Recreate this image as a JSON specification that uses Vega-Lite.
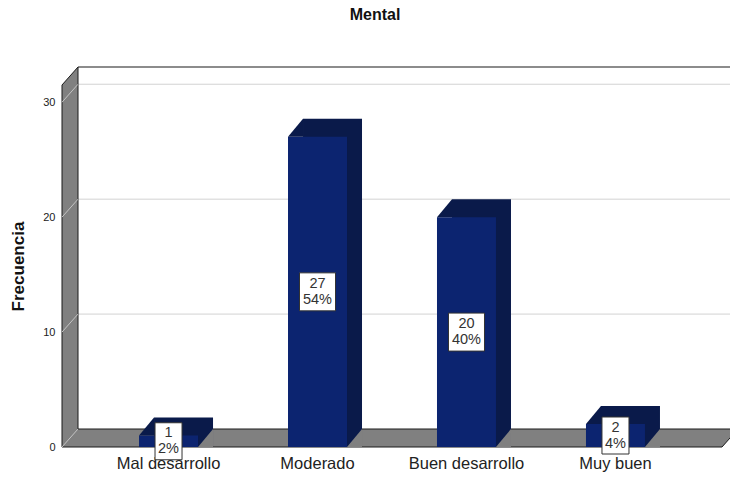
{
  "$schema": "https://vega.github.io/schema/vega-lite/v6.json",
  "width": 660,
  "height": 362,
  "autosize": "none",
  "padding": {"left": 62, "top": 85, "right": 8, "bottom": 30},
  "background": "white",
  "config": {"view": {"stroke": null}, "font": "Liberation Sans"},
  "title": {"text": "Mental", "fontSize": 16, "fontWeight": "bold", "color": "#111111", "offset": 42, "dx": -17},
  "datasets": {
    "frecuencias": [
      {"Categoria": "Mal desarrollo", "Frecuencia": 1, "Porcentaje": "2%"},
      {"Categoria": "Moderado", "Frecuencia": 27, "Porcentaje": "54%"},
      {"Categoria": "Buen desarrollo", "Frecuencia": 20, "Porcentaje": "40%"},
      {"Categoria": "Muy buen", "Frecuencia": 2, "Porcentaje": "4%"}
    ],
    "marcas": [{"t": 0}, {"t": 10}, {"t": 20}, {"t": 30}]
  },
  "resolve": {"scale": {"y": "independent"}},
  "layer": [
    {
      "layer": [
        {
          "data": {"name": "marcas"},
          "transform": [{"filter": "datum.t > 0"}],
          "mark": {"type": "rule", "color": "#d2d2d2", "strokeWidth": 1, "yOffset": -18},
          "encoding": {
            "x": {"value": 16},
            "x2": {"value": 670},
            "y": {"field": "t", "type": "quantitative", "title": "Frecuencia", "scale": {"domain": [0, 31.5], "nice": false}}
          }
        },
        {
          "data": {"name": "marcas"},
          "transform": [{"filter": "datum.t == 0"}],
          "mark": {"type": "rule", "color": "#8c8c8c", "strokeWidth": 2, "yOffset": -18},
          "encoding": {
            "x": {"value": 16},
            "x2": {"value": 670},
            "y": {"datum": 31.5, "type": "quantitative"}
          }
        },
        {
          "data": {"name": "marcas"},
          "transform": [{"filter": "datum.t == 0"}],
          "mark": {"type": "point", "shape": "M0 0 L0 -362 L16 -380 L16 -18 L676 -18 L660 0 Z", "size": 4, "filled": true, "fill": "#808080", "stroke": "#1a1a1a", "strokeWidth": 1, "opacity": 1},
          "encoding": {
            "x": {"value": 0},
            "y": {"field": "t", "type": "quantitative", "title": "Frecuencia"}
          }
        },
        {
          "data": {"name": "marcas"},
          "mark": {"type": "rule", "color": "#c4c4c4", "strokeWidth": 1, "y2Offset": -18},
          "encoding": {
            "x": {"value": 0},
            "x2": {"value": 16},
            "y": {"field": "t", "type": "quantitative", "title": "Frecuencia"},
            "y2": {"field": "t"}
          }
        },
        {
          "data": {"name": "frecuencias"},
          "mark": {"type": "bar", "color": "#0a1a4a", "width": 59, "xOffset": 15, "yOffset": -18},
          "encoding": {
            "x": {"field": "Categoria", "type": "nominal", "sort": null},
            "y": {"field": "Frecuencia", "type": "quantitative", "title": "Frecuencia"},
            "y2": {"datum": 0}
          }
        },
        {
          "data": {"name": "frecuencias"},
          "mark": {"type": "point", "shape": "M29.5 0 L44.5 0 L44.5 -18 Z", "size": 4, "filled": true, "fill": "#808080", "strokeWidth": 0, "opacity": 1},
          "encoding": {
            "x": {"field": "Categoria", "type": "nominal", "sort": null},
            "y": {"datum": 0, "type": "quantitative"}
          }
        },
        {
          "data": {"name": "frecuencias"},
          "mark": {"type": "bar", "color": "#0c2470", "width": 59},
          "encoding": {
            "x": {
              "field": "Categoria", "type": "nominal", "sort": null, "title": null,
              "scale": {"type": "band", "paddingInner": 0, "paddingOuter": 0.215},
              "axis": {"domain": false, "ticks": false, "grid": false, "labelAngle": 0, "labelAlign": "center", "labelBaseline": "top", "labelFontSize": 16.5, "labelColor": "#222222", "labelPadding": 8}
            },
            "y": {
              "field": "Frecuencia", "type": "quantitative", "title": "Frecuencia",
              "axis": {"values": [0, 10, 20, 30], "domain": false, "ticks": false, "grid": false, "labelFontSize": 11, "labelColor": "#222222", "labelPadding": 7, "titleFontSize": 17, "titleFontWeight": "bold", "titleColor": "#111111", "titleX": -44, "titleY": 181, "titleAngle": -90, "titleAlign": "center", "titleBaseline": "middle"}
            },
            "y2": {"datum": 0}
          }
        },
        {
          "data": {"name": "frecuencias"},
          "mark": {"type": "point", "shape": "M-29.5 0 L-14.5 -18 L-14.5 0 Z", "size": 4, "filled": true, "fill": "#0a1a4a", "strokeWidth": 0, "opacity": 1},
          "encoding": {
            "x": {"field": "Categoria", "type": "nominal", "sort": null},
            "y": {"field": "Frecuencia", "type": "quantitative", "title": "Frecuencia"}
          }
        }
      ]
    },
    {
      "data": {"name": "frecuencias"},
      "encoding": {
        "x": {"field": "Categoria", "type": "nominal", "sort": null},
        "y": {"field": "Frecuencia", "type": "quantitative", "scale": {"domain": [0, 63], "nice": false}, "axis": null}
      },
      "layer": [
        {
          "mark": {"type": "point", "size": 4, "filled": true, "fill": "white", "stroke": "#333333", "strokeWidth": 1, "opacity": 1},
          "encoding": {
            "shape": {
              "field": "Categoria", "type": "nominal", "legend": null,
              "scale": {
                "domain": ["Mal desarrollo", "Moderado", "Buen desarrollo", "Muy buen"],
                "range": ["M-13.5 -18.5 L13.5 -18.5 L13.5 18.5 L-13.5 18.5 Z", "M-18 -19 L18 -19 L18 19 L-18 19 Z", "M-18 -19 L18 -19 L18 19 L-18 19 Z", "M-13.5 -18.5 L13.5 -18.5 L13.5 18.5 L-13.5 18.5 Z"]
              }
            }
          }
        },
        {
          "mark": {"type": "text", "fontSize": 14.5, "color": "#333333", "dy": -8, "baseline": "middle", "align": "center"},
          "encoding": {"text": {"field": "Frecuencia", "type": "quantitative"}}
        },
        {
          "mark": {"type": "text", "fontSize": 14.5, "color": "#333333", "dy": 8, "baseline": "middle", "align": "center"},
          "encoding": {"text": {"field": "Porcentaje", "type": "nominal"}}
        }
      ]
    }
  ]
}
